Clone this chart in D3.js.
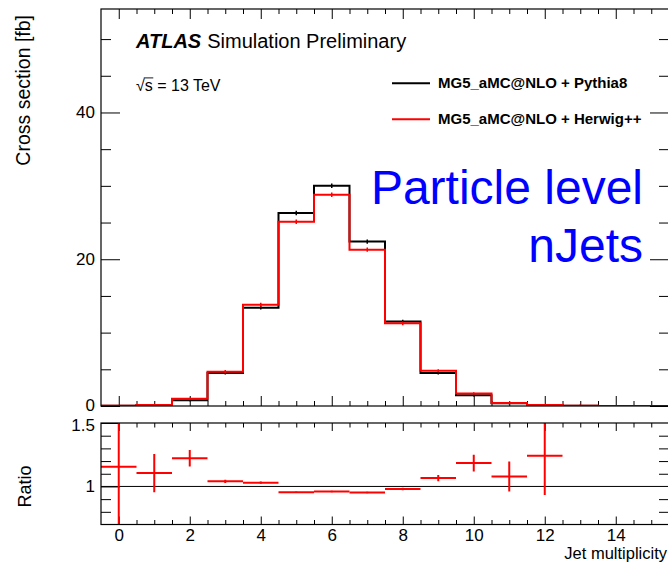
<!DOCTYPE html>
<html>
<head>
<meta charset="utf-8">
<script src="https://cdn.jsdelivr.net/npm/d3@7"></script>
<style>
  html, body { margin: 0; padding: 0; background: #fff; }
  svg { display: block; font-family: "Liberation Sans", Arial, Helvetica, sans-serif; }
</style>
</head>
<body>
<svg id="chart" width="668" height="565"></svg>
<script>
// Jet multiplicity bins (bin centres)
const nJets = [0, 1, 2, 3, 4, 5, 6, 7, 8, 9, 10, 11, 12, 13, 14, 15];

// Particle-level cross sections [fb]
const pythia8 = [0.02, 0.13, 0.80, 4.50, 13.4, 26.3, 30.0, 22.4, 11.5, 4.50, 1.45, 0.38, 0.11, 0.04, 0.015, 0.01];
const herwig  = [0.023, 0.145, 0.98, 4.68, 13.8, 25.1, 28.8, 21.3, 11.26, 4.80, 1.72, 0.41, 0.14, 0.04, 0.015, 0.01];
// Statistical uncertainties [fb]
const pythia8Err = [0.01, 0.03, 0.05, 0.10, 0.15, 0.20, 0.20, 0.18, 0.14, 0.09, 0.05, 0.03, 0.02, 0.01, 0.01, 0.01];
const herwigErr  = [0.01, 0.03, 0.05, 0.10, 0.15, 0.20, 0.20, 0.18, 0.14, 0.09, 0.05, 0.03, 0.02, 0.01, 0.01, 0.01];

// Herwig++ / Pythia8 ratio with uncertainties (bins 0..12)
const ratioBins = [0, 1, 2, 3, 4, 5, 6, 7, 8, 9, 10, 11, 12];
const ratio     = [1.155, 1.105, 1.223, 1.040, 1.030, 0.955, 0.960, 0.952, 0.979, 1.066, 1.184, 1.079, 1.242];
const ratioErr  = [0.60, 0.15, 0.065, 0.012, 0.008, 0.006, 0.006, 0.006, 0.010, 0.025, 0.066, 0.118, 0.31];

// Axis ticks
const xMajor = [0, 2, 4, 6, 8, 10, 12, 14];
const yMajor = [0, 20, 40];
const yMinor = [5, 10, 15, 25, 30, 35, 45, 50];
const rMajor = [1, 1.5];
const rMinor = [0.8, 0.9, 1.1, 1.2, 1.3, 1.4];

const legendLabels = ["MG5_aMC@NLO + Pythia8", "MG5_aMC@NLO + Herwig++"];
const colors = ["#000000", "#ff0000"];

const svg = d3.select("#chart");

// Pad geometry
const L = 101, R = 669;
const top1 = 9, bot1 = 406;
const top2 = 423, bot2 = 524.5;

const x = d3.scaleLinear().domain([-0.5, 15.5]).range([L, R]);
const y = d3.scaleLinear().domain([0, 54.1]).range([bot1, top1]);
const yr = d3.scaleLinear().domain([0.7, 1.5]).range([bot2, top2]);

const xMinor = d3.range(-0.5, 15.51, 0.5).filter(v => !xMajor.includes(v) && v > -0.5 && v < 15.5);

function styleAxis(g) {
  g.select(".domain").remove();
  g.selectAll(".tick line").attr("stroke", "#000").attr("stroke-width", 1);
  g.selectAll(".tick text").attr("fill", "#000").attr("font-family", "Liberation Sans, Arial, sans-serif");
}

// ---------- Upper pad ----------
svg.append("clipPath").attr("id", "clip1")
  .append("rect").attr("x", L).attr("y", top1).attr("width", R - L).attr("height", bot1 - top1);
svg.append("clipPath").attr("id", "clip2")
  .append("rect").attr("x", L).attr("y", top2).attr("width", R - L).attr("height", bot2 - top2);

// x ticks, bottom and top of upper pad
svg.append("g").attr("transform", `translate(0,${bot1})`)
  .call(d3.axisBottom(x).tickValues(xMajor).tickSize(-10).tickFormat(""))
  .call(styleAxis);
svg.append("g").attr("transform", `translate(0,${bot1})`)
  .call(d3.axisBottom(x).tickValues(xMinor).tickSize(-5).tickFormat(""))
  .call(styleAxis);
svg.append("g").attr("transform", `translate(0,${top1})`)
  .call(d3.axisTop(x).tickValues(xMajor).tickSize(-10).tickFormat(""))
  .call(styleAxis);
svg.append("g").attr("transform", `translate(0,${top1})`)
  .call(d3.axisTop(x).tickValues(xMinor).tickSize(-5).tickFormat(""))
  .call(styleAxis);

// y ticks, left (labelled) and right
svg.append("g").attr("transform", `translate(${L},0)`)
  .call(d3.axisLeft(y).tickValues(yMajor).tickSize(-19).tickPadding(6).tickFormat(d3.format("d")))
  .call(styleAxis)
  .call(g => g.selectAll(".tick text").attr("font-size", 17)
    .attr("dy", d => d === 0 ? "0.24em" : "0.32em"));
svg.append("g").attr("transform", `translate(${L},0)`)
  .call(d3.axisLeft(y).tickValues(yMinor).tickSize(-10).tickFormat(""))
  .call(styleAxis);
svg.append("g").attr("transform", `translate(${R},0)`)
  .call(d3.axisRight(y).tickValues(yMajor).tickSize(-19).tickFormat(""))
  .call(styleAxis);
svg.append("g").attr("transform", `translate(${R},0)`)
  .call(d3.axisRight(y).tickValues(yMinor).tickSize(-10).tickFormat(""))
  .call(styleAxis);

// Histogram outlines
function histPoints(vals) {
  const pts = [[-0.5, 0]];
  vals.forEach((v, i) => pts.push([nJets[i] - 0.5, v]));
  pts.push([nJets[nJets.length - 1] + 0.5, vals[vals.length - 1]]);
  pts.push([nJets[nJets.length - 1] + 0.5, 0]);
  return pts;
}
const stepLine = d3.line().x(d => x(d[0])).y(d => y(d[1])).curve(d3.curveStepAfter);

const hists = [
  { vals: pythia8, err: pythia8Err, color: colors[0] },
  { vals: herwig, err: herwigErr, color: colors[1] }
];
const histG = svg.append("g").attr("clip-path", "url(#clip1)");
hists.forEach(h => {
  histG.append("path")
    .attr("d", stepLine(histPoints(h.vals)))
    .attr("fill", "none")
    .attr("stroke", h.color)
    .attr("stroke-width", 2);
  histG.selectAll(null)
    .data(nJets)
    .enter().append("line")
    .attr("x1", d => x(d)).attr("x2", d => x(d))
    .attr("y1", (d, i) => y(h.vals[i] - h.err[i]) + 0.8)
    .attr("y2", (d, i) => y(h.vals[i] + h.err[i]) - 0.8)
    .attr("stroke", h.color)
    .attr("stroke-width", 1.5);
});

// Upper pad frame
svg.append("rect").attr("x", L).attr("y", top1).attr("width", R - L).attr("height", bot1 - top1)
  .attr("fill", "none").attr("stroke", "#000").attr("stroke-width", 1.2);

// Labels
const atlas = svg.append("text").attr("x", 136).attr("y", 47.5).attr("font-size", 20);
atlas.append("tspan").attr("font-weight", "bold").attr("font-style", "italic").text("ATLAS");
atlas.append("tspan").attr("dx", 6).text("Simulation Preliminary");

// sqrt(s) = 13 TeV
const sq = svg.append("text").attr("x", 136).attr("y", 90.5).attr("font-size", 16);
sq.append("tspan").text("\u221A");
sq.append("tspan").text("s");
sq.append("tspan").text(" = 13 TeV");
{
  const node = sq.node();
  const radW = node.getSubStringLength(0, 1);
  const sW = node.getSubStringLength(1, 1);
  svg.append("line")
    .attr("x1", 136 + radW - 1).attr("x2", 136 + radW + sW + 0.5)
    .attr("y1", 90.5 - 12.6).attr("y2", 90.5 - 12.6)
    .attr("stroke", "#000").attr("stroke-width", 0.9);
}

// Legend
const legendY = [83.3, 119.3];
legendLabels.forEach((lab, i) => {
  svg.append("line").attr("x1", 392).attr("x2", 430).attr("y1", legendY[i]).attr("y2", legendY[i])
    .attr("stroke", colors[i]).attr("stroke-width", 2);
  svg.append("text").attr("x", 438).attr("y", legendY[i] + 4.6)
    .attr("font-size", 15).attr("font-weight", "bold").text(lab);
});

// Observable tag
svg.append("text").attr("x", 643).attr("y", 203.5).attr("text-anchor", "end")
  .attr("font-size", 48).attr("fill", "#0000ff").text("Particle level");
svg.append("text").attr("x", 643).attr("y", 261.5).attr("text-anchor", "end")
  .attr("font-size", 48).attr("fill", "#0000ff").text("nJets");

// y title
svg.append("text").attr("transform", "translate(30,15) rotate(-90)")
  .attr("text-anchor", "end").attr("font-size", 19.5).text("Cross section [fb]");

// ---------- Ratio pad ----------
svg.append("g").attr("transform", `translate(0,${bot2})`)
  .call(d3.axisBottom(x).tickValues(xMajor).tickSize(-8).tickPadding(4).tickFormat(d3.format("d")))
  .call(styleAxis)
  .call(g => g.selectAll(".tick text").attr("font-size", 17));
svg.append("g").attr("transform", `translate(0,${bot2})`)
  .call(d3.axisBottom(x).tickValues(xMinor).tickSize(-4.5).tickFormat(""))
  .call(styleAxis);
svg.append("g").attr("transform", `translate(0,${top2})`)
  .call(d3.axisTop(x).tickValues(xMajor).tickSize(-8).tickFormat(""))
  .call(styleAxis);
svg.append("g").attr("transform", `translate(0,${top2})`)
  .call(d3.axisTop(x).tickValues(xMinor).tickSize(-4.5).tickFormat(""))
  .call(styleAxis);

svg.append("g").attr("transform", `translate(${L},0)`)
  .call(d3.axisLeft(yr).tickValues(rMajor).tickSize(-19).tickPadding(6).tickFormat(d => d === 1 ? "1" : d3.format(".1f")(d)))
  .call(styleAxis)
  .call(g => g.selectAll(".tick text").attr("font-size", 17)
    .attr("dy", d => d === 1.5 ? "0.42em" : "0.32em"));
svg.append("g").attr("transform", `translate(${L},0)`)
  .call(d3.axisLeft(yr).tickValues(rMinor).tickSize(-10).tickFormat(""))
  .call(styleAxis);
svg.append("g").attr("transform", `translate(${R},0)`)
  .call(d3.axisRight(yr).tickValues(rMinor).tickSize(-10).tickFormat(""))
  .call(styleAxis);

// Unity line
svg.append("line").attr("x1", L).attr("x2", R).attr("y1", yr(1)).attr("y2", yr(1))
  .attr("stroke", "#000").attr("stroke-width", 1);

// Ratio points
const rG = svg.append("g").attr("clip-path", "url(#clip2)");
rG.selectAll(".hbar").data(ratioBins).enter().append("line")
  .attr("x1", d => x(d - 0.5)).attr("x2", d => x(d + 0.5))
  .attr("y1", (d, i) => yr(ratio[i])).attr("y2", (d, i) => yr(ratio[i]))
  .attr("stroke", colors[1]).attr("stroke-width", 2);
rG.selectAll(".vbar").data(ratioBins).enter().append("line")
  .attr("x1", d => x(d)).attr("x2", d => x(d))
  .attr("y1", (d, i) => yr(ratio[i] - ratioErr[i])).attr("y2", (d, i) => yr(ratio[i] + ratioErr[i]))
  .attr("stroke", colors[1]).attr("stroke-width", 2);

svg.append("rect").attr("x", L).attr("y", top2).attr("width", R - L).attr("height", bot2 - top2)
  .attr("fill", "none").attr("stroke", "#000").attr("stroke-width", 1.2);

svg.append("text").attr("transform", `translate(31,${yr(1)}) rotate(-90)`)
  .attr("text-anchor", "middle").attr("font-size", 18).text("Ratio");
svg.append("text").attr("x", 667).attr("y", 558.5).attr("text-anchor", "end")
  .attr("font-size", 16.5).text("Jet multiplicity");
</script>
</body>
</html>
